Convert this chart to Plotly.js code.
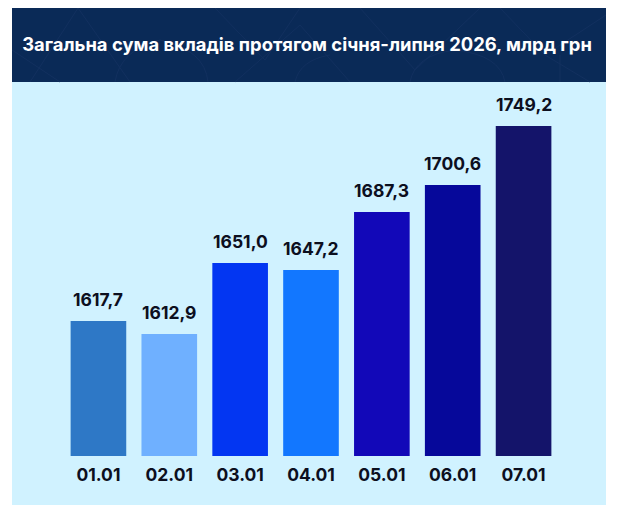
<!DOCTYPE html>
<html><head><meta charset="utf-8">
<script src="https://cdn.plot.ly/plotly-3.0.1.min.js"></script>
<style>html,body{margin:0;padding:0;background:#fff}</style></head>
<body><div id="chart" style="width:625px;height:505px"></div>
<script>
const titleText = 'Загальна сума вкладів протягом січня-липня 2026, млрд грн';
const categories = ['01.01','02.01','03.01','04.01','05.01','06.01','07.01'];
const valueLabels = ['1617,7','1612,9','1651,0','1647,2','1687,3','1700,6','1749,2'];
// Bar heights as drawn in the picture (the reference's bars are not to scale with the labels)
const drawnHeights = [135,122,193,186,244,271,330];
const barColors = ['#2e78c6','#6fb0ff','#0336f2','#1277ff','#1208b8','#06089a','#14146a'];

const W=625,H=505;
const L=63,R=66,T=100,B=49;
// 'paper' coordinates are relative to the plot area
const fx=(x)=>(x-L)/(W-L-R), fy=(y)=>(H-B-y)/(H-T-B);
const FONT='Inter, sans-serif';
// faint decorative lines in the header band
const decor=[
 'M30,82 L78,8','M78,8 L130,82','M115,82 Q120,50 160,40 Q205,50 208,82',
 'M215,8 L265,60 L300,8','M235,82 L300,25 L350,82','M360,8 L415,70','M415,70 L480,8',
 'M410,82 Q415,55 455,50 Q500,55 505,82','M500,8 L545,55 L590,82','M545,55 L606,15',
 'M12,50 L60,82','M295,82 Q300,60 330,55','M560,82 L560,55'
];
const decorShapes=decor.map(d=>({type:'path',xref:'paper',yref:'paper',layer:'below',
  path:d.replace(/(-?\d+),(-?\d+)/g,(m,a,b)=>fx(+a)+','+fy(+b)),
  line:{color:'#12305f',width:1}}));
Plotly.newPlot('chart',[{
  type:'bar',x:categories,y:drawnHeights,cliponaxis:false,
  marker:{color:barColors,line:{width:0}},width:0.785,hoverinfo:'skip'
}],{
  width:W,height:H,paper_bgcolor:'#ffffff',plot_bgcolor:'rgba(0,0,0,0)',
  margin:{l:L,r:R,t:T,b:B},
  showlegend:false,
  title:{text:titleText,font:{family:FONT,size:18.4,color:'#ffffff',weight:700},
    x:307/W,xanchor:'center',xref:'container',y:1-45/H,yref:'container',yanchor:'middle'},
  xaxis:{type:'category',range:[-0.5,6.5],showgrid:false,zeroline:false,showline:false,ticks:'',
    ticklabelstandoff:6,
    tickfont:{family:FONT,size:17.5,color:'#0c0f1e',weight:700}},
  yaxis:{range:[0,356],visible:false,showgrid:false,zeroline:false},
  annotations:categories.map((c,i)=>({x:i,y:drawnHeights[i],text:valueLabels[i],xref:'x',yref:'y',
    showarrow:false,xanchor:'center',yanchor:'middle',yshift:22,
    font:{family:FONT,size:17.5,color:'#0c0f1e',weight:700}})),
  shapes:[
    {type:'rect',xref:'paper',yref:'paper',layer:'below',x0:fx(12),x1:fx(606),y0:fy(505),y1:fy(82),line:{width:0},fillcolor:'#d0f2ff'},
    {type:'rect',xref:'paper',yref:'paper',layer:'below',x0:fx(12),x1:fx(606),y0:fy(82),y1:fy(8),line:{width:0},fillcolor:'#0a2a57'}
  ].concat(decorShapes)
},{displayModeBar:false,staticPlot:true});
</script></body></html>
